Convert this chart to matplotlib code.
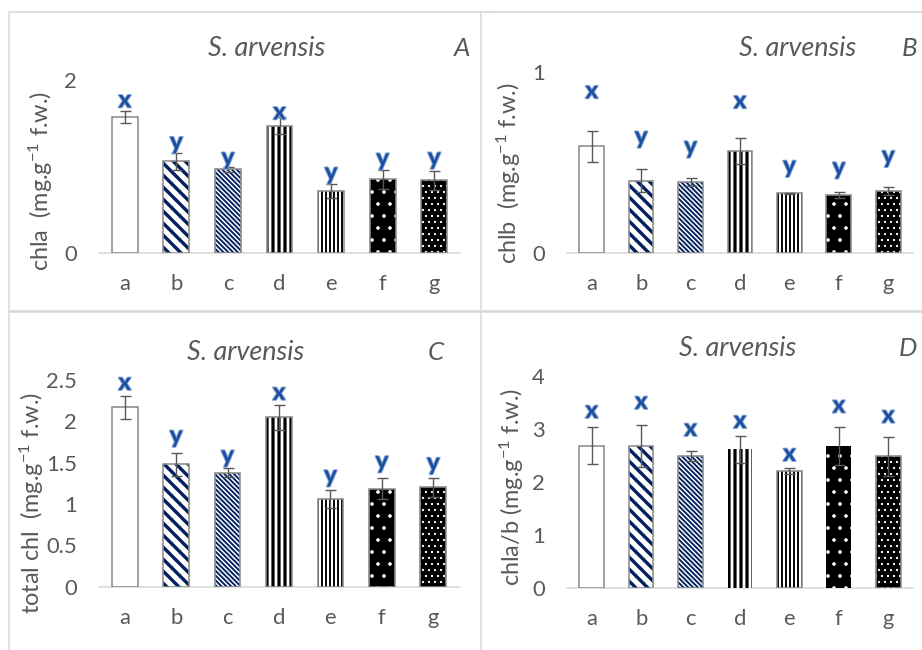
import matplotlib
matplotlib.use("Agg")
import matplotlib.pyplot as plt
import matplotlib.patheffects as pe
from matplotlib.patches import Rectangle
import numpy as np

# ---------------- data ----------------
categories = ["a", "b", "c", "d", "e", "f", "g"]

chla = [1.57, 1.06, 0.97, 1.47, 0.72, 0.855, 0.84]
chla_err = [0.07, 0.10, 0.03, 0.10, 0.08, 0.11, 0.11]
chla_letters = ["x", "y", "y", "x", "y", "y", "y"]
chla_letter_y = [1.684, 1.20, 1.02, 1.545, 0.847, 1.01, 1.02]

chlb = [0.59, 0.40, 0.392, 0.563, 0.33, 0.32, 0.343]
chlb_err = [0.085, 0.065, 0.02, 0.072, 0.004, 0.015, 0.022]
chlb_letters = ["x", "y", "y", "x", "y", "y", "y"]
chlb_letter_y = [0.855, 0.604, 0.549, 0.80, 0.442, 0.433, 0.497]

total = [2.17, 1.48, 1.38, 2.05, 1.064, 1.185, 1.20]
total_err = [0.14, 0.14, 0.05, 0.15, 0.11, 0.125, 0.115]
total_letters = ["x", "y", "y", "x", "y", "y", "y"]
total_letter_y = [2.38, 1.74, 1.50, 2.26, 1.26, 1.43, 1.41]

ratio = [2.69, 2.68, 2.49, 2.62, 2.21, 2.68, 2.49]
ratio_err = [0.34, 0.40, 0.10, 0.25, 0.06, 0.35, 0.37]
ratio_letters = ["x", "x", "x", "x", "x", "x", "x"]
ratio_letter_y = [3.21, 3.38, 2.87, 3.02, 2.40, 3.31, 3.12]

title = "S. arvensis"
ylabels = ["chla  (mg.g$^{-1}$ f.w.)", "chlb  (mg.g$^{-1}$ f.w.)",
           "total chl  (mg.g$^{-1}$ f.w.)", "chla/b (mg.g$^{-1}$ f.w.)"]
panel_tags = ["A", "B", "C", "D"]
yticks_A = [0, 2]
yticks_B = [0, 1]
yticks_C = [0, 0.5, 1, 1.5, 2, 2.5]
yticks_D = [0, 1, 2, 3, 4]
ytick_labels_C = ["0", "0.5", "1", "1.5", "2", "2.5"]

# ---------------- style ----------------
W, H = 922, 650
DPI = 72
FONT = "Lato"
plt.rcParams["font.family"] = [FONT, "DejaVu Sans"]
plt.rcParams["mathtext.fontset"] = "custom"
plt.rcParams["mathtext.rm"] = FONT
plt.rcParams["mathtext.it"] = FONT + ":italic"
plt.rcParams["mathtext.default"] = "regular"

TXT = "#595959"
NAVY = "#002060"
EDGE = "#8c8c8c"
LETTER = "#1a4f9f"

# style per category (face, hatch, hatch colour, hatch lw)
faces = ["white", "white", "white", "white", "white", "black", "black"]
hatches = [None, "\\" * 2, "\\" * 5, "||", "|||", ".", ".."]
hcolors = ["#7f7f7f", NAVY, NAVY, "black", "black", "white", "white"]
hlws = [1.0, 3.4, 1.9, 3.2, 1.9, 1.2, 1.0]

fig = plt.figure(figsize=(W / DPI, H / DPI), dpi=DPI)


def px_rect(x0, y0, x1, y1):
    return [x0 / W, 1 - y1 / H, (x1 - x0) / W, (y1 - y0) / H]


def frame(x0, y0, x1, y1, z):
    r = Rectangle((x0 / W, 1 - y1 / H), (x1 - x0) / W, (y1 - y0) / H,
                  transform=fig.transFigure, facecolor="white",
                  edgecolor="#d9d9d9", linewidth=1.6, zorder=z)
    fig.add_artist(r)


frame(9, 12, 500, 311, -3)
frame(9, 312, 500, 665, -3)
frame(481, 12, 935, 311, -2)
frame(481, 312, 935, 665, -2)

panels = [
    dict(rect=(99, 80, 460, 253), vals=chla, err=chla_err, let=chla_letters,
         lety=chla_letter_y, ylim=(0, 2), yt=yticks_A, ytl=None,
         title_xy=(267, 49), tag_xy=(462, 49), ylab_xy=(41, 181), noedge=[]),
    dict(rect=(567, 72, 913, 253), vals=chlb, err=chlb_err, let=chlb_letters,
         lety=chlb_letter_y, ylim=(0, 1), yt=yticks_B, ytl=None,
         title_xy=(798, 49), tag_xy=(910, 49), ylab_xy=(509, 173), noedge=[]),
    dict(rect=(99, 380, 459, 586.7), vals=total, err=total_err, let=total_letters,
         lety=total_letter_y, ylim=(0, 2.5), yt=yticks_C, ytl=ytick_labels_C,
         title_xy=(246, 352), tag_xy=(436, 352), ylab_xy=(32, 503), noedge=[]),
    dict(rect=(567, 376, 913, 588.3), vals=ratio, err=ratio_err, let=ratio_letters,
         lety=ratio_letter_y, ylim=(0, 4), yt=yticks_D, ytl=None,
         title_xy=(738, 348), tag_xy=(908, 348), ylab_xy=(512, 487), noedge=[3, 5]),
]

x = np.arange(len(categories))

for i, p in enumerate(panels):
    x0, y0, x1, y1 = p["rect"]
    ax = fig.add_axes(px_rect(x0, y0, x1, y1))
    ax.set_facecolor("none")
    ax.set_zorder(2)
    for j in range(len(categories)):
        kw = {}
        if hatches[j]:
            kw["hatch"] = hatches[j]
        with plt.rc_context({"hatch.linewidth": hlws[j]}):
            bc = ax.bar(x[j], p["vals"][j], width=0.5, color=faces[j],
                        edgecolor=hcolors[j], linewidth=0, zorder=2, **kw)
        for b in bc:
            if hasattr(b, "set_hatch_linewidth"):
                b.set_hatch_linewidth(hlws[j])
        if j not in p["noedge"]:
            ax.bar(x[j], p["vals"][j], width=0.5, fill=False, edgecolor=EDGE,
                   linewidth=1.6, zorder=3)
    ax.errorbar(x, p["vals"], yerr=p["err"], fmt="none", ecolor="#595959",
                elinewidth=1.4, capsize=5.5, capthick=1.4, zorder=4)
    for j in range(len(categories)):
        ax.text(x[j], p["lety"][j], p["let"][j], ha="center", va="baseline",
                fontsize=24, fontweight="bold", color=LETTER, zorder=5,
                path_effects=[pe.withStroke(linewidth=2, foreground="#8aa8d6")])
    ax.set_xlim(-0.5, len(categories) - 0.5)
    ax.set_ylim(*p["ylim"])
    ax.set_yticks(p["yt"])
    if p["ytl"] is not None:
        ax.set_yticklabels(p["ytl"])
    ax.set_xticks(x)
    ax.set_xticklabels(categories)
    for s in ["top", "right", "left"]:
        ax.spines[s].set_visible(False)
    ax.spines["bottom"].set_color("#d9d9d9")
    ax.spines["bottom"].set_linewidth(1.6)
    ax.spines["bottom"].set_zorder(1)
    ax.tick_params(axis="both", length=0, labelsize=22, colors=TXT)
    ax.tick_params(axis="x", pad=21)
    ax.tick_params(axis="y", pad=22)
    tx, ty = p["title_xy"]
    fig.text(tx / W, 1 - ty / H, title, ha="center", va="center",
             fontsize=27, style="italic", color=TXT)
    gx, gy = p["tag_xy"]
    fig.text(gx / W, 1 - gy / H, panel_tags[i], ha="center", va="center",
             fontsize=26, style="italic", color=TXT)
    lx, ly = p["ylab_xy"]
    fig.text(lx / W, 1 - ly / H, ylabels[i], ha="center", va="center",
             rotation=90, fontsize=23.5, color=TXT)

fig.savefig("out.png", dpi=DPI)
